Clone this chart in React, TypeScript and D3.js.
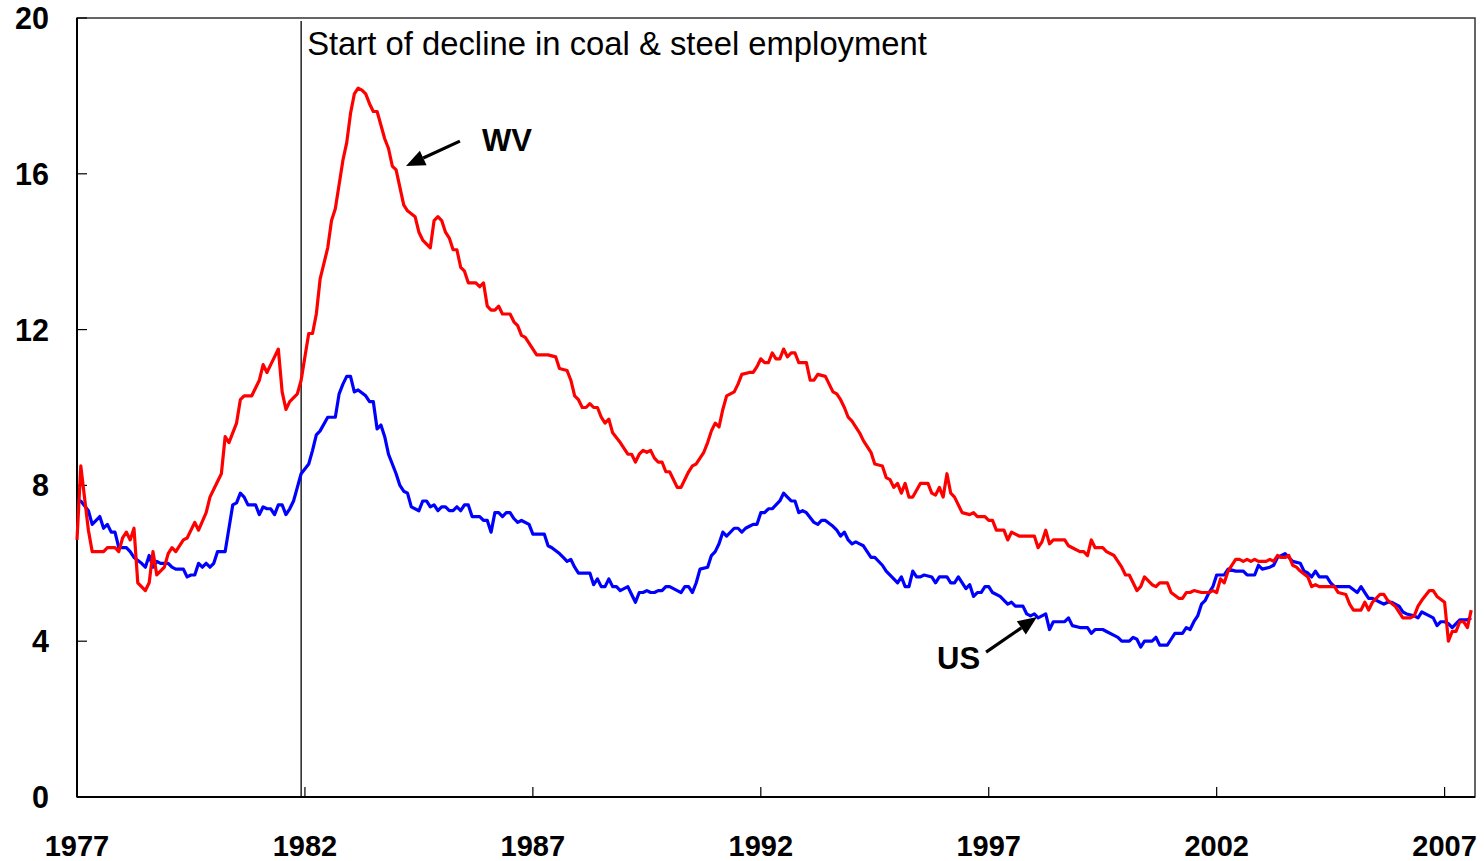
import React from "react";
import * as d3 from "d3";

// unemployment rate (%), [months since Jan 1977, rate]
const wvRate: [number, number][] = [
  [0,6.6],[1,8.5],[3,6.85],[4,6.3],[7,6.3],[8,6.4],[10,6.4],[11,6.3],[12,6.65],[13,6.8],[14,6.6],[15,6.9],[16,5.5],[18,5.3],[19,5.5],[20,6.3],[21,5.7],[23,5.9],[24,6.25],[25,6.4],[26,6.3],[28,6.6],[29,6.65],[31,7.05],[32,6.85],[34,7.3],[35,7.7],[36,7.9],[38,8.3],[39,9.25],[40,9.1],[42,9.6],[43,10.2],[44,10.3],[46,10.3],[47,10.5],[48,10.7],[49,11.1],[50,10.9],[51,11.1],[52,11.3],[53,11.5],[54,10.4],[55,9.95],[56,10.15],[58,10.35],[59,10.7],
  [60,11.3],[61,11.9],[62,11.9],[63,12.4],[64,13.3],[66,14.1],[67,14.8],[68,15.1],[70,16.35],[71,16.8],[72,17.55],[73,18.05],[74,18.2],[75,18.15],[76,18.05],[77,17.8],[78,17.6],[79,17.6],[81,16.9],[82,16.65],[83,16.2],[84,16.1],[86,15.2],[87,15.05],[89,14.9],[90,14.5],[91,14.3],[93,14.1],[94,14.8],[95,14.9],[96,14.8],[97,14.5],[98,14.35],[99,14.05],[100,14.05],[101,13.6],[102,13.5],[103,13.2],[105,13.2],[106,13.1],[107,13.2],[108,12.6],[109,12.5],[110,12.5],[111,12.6],[112,12.4],[114,12.4],[115,12.2],[116,12.1],[117,11.85],[118,11.8],
  [121,11.35],[124,11.35],[126,11.3],[127,11.0],[129,10.95],[130,10.7],[131,10.3],[132,10.2],[133,10.0],[134,10.0],[135,10.1],[136,10.0],[137,10.0],[138,9.75],[139,9.6],[140,9.7],[141,9.35],[143,9.1],[145,8.8],[146,8.8],[147,8.6],[148,8.8],[149,8.9],[150,8.85],[151,8.9],[152,8.7],[153,8.6],[154,8.6],[155,8.35],[156,8.35],[157,8.15],[158,7.95],[159,7.95],[160,8.15],[161,8.35],[162,8.5],[163,8.55],[165,8.85],[166,9.1],[167,9.4],[168,9.6],[169,9.5],[170,9.95],[171,10.3],[172,10.35],[173,10.4],[174,10.6],[175,10.85],[177,10.9],[178,10.9],[179,11.05],
  [180,11.25],[181,11.15],[182,11.15],[183,11.4],[184,11.25],[185,11.25],[186,11.5],[187,11.3],[188,11.4],[189,11.4],[190,11.15],[192,11.15],[193,10.7],[194,10.7],[195,10.85],[197,10.8],[198,10.6],[199,10.4],[200,10.35],[201,10.2],[202,10.0],[203,9.75],[204,9.65],[206,9.35],[207,9.15],[209,8.85],[210,8.55],[212,8.5],[213,8.2],[214,8.15],[215,7.95],[216,8.05],[217,7.8],[218,8.05],[219,7.7],[220,7.7],[222,8.05],[224,8.05],[225,7.8],[226,7.75],[227,7.95],[228,7.7],[229,8.3],[230,7.8],[231,7.7],[233,7.3],[235,7.25],[236,7.3],[237,7.2],[239,7.2],
  [240,7.1],[241,7.1],[242,6.85],[244,6.85],[245,6.6],[246,6.8],[248,6.7],[252,6.7],[253,6.4],[254,6.55],[255,6.85],[256,6.5],[257,6.6],[260,6.6],[261,6.45],[262,6.4],[264,6.3],[265,6.3],[266,6.2],[267,6.6],[268,6.4],[270,6.4],[271,6.3],[273,6.2],[274,6.05],[275,5.9],[276,5.7],[277,5.7],[279,5.3],[280,5.4],[281,5.65],[283,5.45],[284,5.4],[285,5.5],[287,5.5],[288,5.25],[290,5.1],[291,5.1],[292,5.25],[293,5.25],[294,5.3],[296,5.25],[298,5.25],[299,5.3],
  [300,5.25],[301,5.6],[302,5.5],[303,5.8],[305,6.1],[306,6.1],[307,6.05],[308,6.1],[309,6.05],[310,6.1],[311,6.05],[313,6.05],[314,6.1],[315,6.05],[316,6.2],[317,6.15],[318,6.15],[319,6.2],[320,5.95],[321,5.9],[322,5.8],[324,5.65],[325,5.4],[326,5.45],[327,5.4],[331,5.4],[332,5.25],[334,5.2],[335,4.95],[336,4.8],[338,4.8],[339,5.0],[340,4.8],[341,5.0],[343,5.2],[344,5.2],[345,5.05],[347,4.9],[349,4.6],[351,4.6],[352,4.65],[353,4.9],[354,5.05],[356,5.3],[357,5.3],[358,5.15],
  [360,5.0],[361,4.0],[362,4.25],[363,4.25],[364,4.5],[365,4.5],[366,4.35],[367,4.8],
];

const usRate: [number, number][] = [
  [0,7.6],[1,7.6],[3,7.35],[4,7.0],[6,7.2],[7,6.9],[8,7.0],[9,6.8],[10,6.8],[11,6.4],[13,6.4],[14,6.3],[15,6.15],[17,6.0],[18,5.9],[19,6.2],[20,5.9],[21,6.05],[22,6.0],[24,6.0],[25,5.9],[26,5.85],[28,5.85],[29,5.65],[30,5.7],[31,5.7],[32,6.0],[33,5.9],[34,6.0],[35,5.9],[36,6.0],[37,6.3],[39,6.3],[41,7.5],[42,7.55],[43,7.8],[44,7.7],[45,7.5],[47,7.5],[48,7.25],[49,7.45],[50,7.4],[51,7.4],[52,7.25],[53,7.5],[54,7.5],[55,7.25],[56,7.4],[57,7.6],[58,7.95],[59,8.3],
  [61,8.55],[62,8.9],[63,9.3],[64,9.4],[66,9.75],[68,9.75],[69,10.35],[70,10.6],[71,10.8],[72,10.8],[73,10.4],[74,10.45],[76,10.3],[77,10.15],[78,10.15],[79,9.45],[80,9.55],[81,9.25],[82,8.8],[83,8.55],[84,8.3],[85,8.0],[86,7.85],[87,7.8],[88,7.45],[90,7.35],[91,7.6],[92,7.6],[93,7.45],[94,7.5],[95,7.35],[96,7.45],[97,7.45],[98,7.35],[99,7.35],[100,7.45],[101,7.35],[102,7.5],[103,7.5],[104,7.2],[106,7.2],[107,7.1],[108,7.1],[109,6.8],[110,7.3],[111,7.3],[112,7.2],[113,7.3],[114,7.3],[115,7.15],[116,7.05],[117,7.1],[119,7.0],
  [120,6.75],[123,6.75],[124,6.45],[125,6.4],[127,6.25],[128,6.15],[129,6.05],[130,6.1],[131,5.9],[132,5.75],[135,5.75],[136,5.45],[137,5.6],[138,5.4],[139,5.4],[140,5.6],[141,5.4],[142,5.4],[143,5.3],[145,5.4],[146,5.2],[147,5.0],[148,5.25],[149,5.25],[150,5.3],[151,5.25],[152,5.25],[153,5.3],[154,5.3],[155,5.4],[156,5.4],[158,5.3],[159,5.25],[160,5.4],[161,5.4],[162,5.25],[163,5.5],[164,5.85],[166,5.9],[167,6.2],[168,6.3],[169,6.5],[170,6.8],[171,6.7],[173,6.9],[174,6.9],[175,6.8],[176,6.9],[177,6.95],[178,7.0],[179,7.0],
  [180,7.3],[181,7.3],[182,7.4],[183,7.4],[185,7.6],[186,7.8],[187,7.7],[188,7.6],[189,7.6],[190,7.3],[191,7.35],[192,7.3],[194,7.05],[195,7.0],[196,7.1],[197,7.1],[199,6.95],[200,6.85],[201,6.7],[202,6.8],[203,6.6],[204,6.5],[205,6.55],[206,6.5],[207,6.45],[209,6.15],[210,6.15],[212,5.95],[213,5.8],[215,5.6],[216,5.5],[217,5.65],[218,5.4],[219,5.4],[220,5.8],[221,5.65],[222,5.65],[223,5.7],[225,5.65],[226,5.5],[227,5.65],[229,5.65],[230,5.5],[231,5.5],[232,5.65],[234,5.35],[235,5.45],[236,5.15],[237,5.25],[238,5.25],[239,5.4],
  [240,5.4],[241,5.25],[243,5.15],[245,4.95],[246,5.0],[247,4.9],[249,4.9],[250,4.7],[251,4.65],[252,4.7],[253,4.6],[255,4.7],[256,4.3],[257,4.5],[260,4.5],[261,4.6],[262,4.4],[264,4.35],[266,4.35],[267,4.2],[268,4.3],[270,4.3],[271,4.25],[273,4.15],[274,4.1],[275,4.0],[277,4.0],[278,4.1],[279,4.05],[280,3.85],[281,4.0],[282,4.0],[283,4.0],[284,4.1],[285,3.9],[287,3.9],[288,4.05],[289,4.2],[291,4.2],[292,4.35],[293,4.3],[294,4.5],[295,4.65],[296,4.95],[297,5.05],[298,5.25],[299,5.4],
  [300,5.7],[302,5.7],[303,5.85],[305,5.8],[307,5.8],[308,5.7],[310,5.7],[311,5.95],[312,5.85],[314,5.9],[315,5.95],[316,6.15],[318,6.25],[319,6.15],[320,6.05],[322,6.0],[323,5.8],[324,5.75],[325,5.65],[326,5.8],[327,5.65],[329,5.65],[330,5.5],[331,5.4],[335,5.4],[337,5.25],[338,5.4],[339,5.25],[340,5.1],[341,5.1],[343,5.0],[344,4.95],[345,5.0],[346,5.0],[348,4.9],[349,4.75],[350,4.7],[352,4.65],[353,4.6],[354,4.75],[356,4.65],[357,4.6],[358,4.4],[359,4.5],
  [360,4.5],[361,4.45],[362,4.35],[364,4.55],[366,4.55],[367,4.6],
];

const yTicks = [0, 4, 8, 12, 16, 20];
const xTicks = [0, 60, 120, 180, 240, 300, 360]; // months since Jan 1977
const declineMonth = 59;
const declineLabel = "Start of decline in coal & steel employment";

// arrows: [fromMonth, fromRate, toMonth, toRate]
const wvArrow = [100.8, 16.84, 86.6, 16.2];
const usArrow = [239.3, 3.72, 252.7, 4.62];

const width = 1484;
const height = 861;
const margin = { top: 18, right: 9, bottom: 64, left: 77 };
const font = "Arial, 'Liberation Sans', sans-serif";

function Arrow({ pts, x, y }) {
  const [x1, y1, x2, y2] = [x(pts[0]), y(pts[1]), x(pts[2]), y(pts[3])];
  const ang = Math.atan2(y2 - y1, x2 - x1);
  const len = 19;
  const half = 8;
  const bx = x2 - len * Math.cos(ang);
  const by = y2 - len * Math.sin(ang);
  const head = [
    [x2, y2],
    [bx + half * Math.sin(ang), by - half * Math.cos(ang)],
    [bx - half * Math.sin(ang), by + half * Math.cos(ang)],
  ];
  return (
    <g>
      <line x1={x1} y1={y1} x2={bx} y2={by} stroke="#000" strokeWidth={3.2} />
      <polygon points={head.map((p) => p.join(",")).join(" ")} fill="#000" />
    </g>
  );
}

export default function App() {
  const x = d3
    .scaleLinear()
    .domain([0, 368])
    .range([margin.left, width - margin.right]);
  const y = d3
    .scaleLinear()
    .domain([0, 20])
    .range([height - margin.bottom, margin.top]);

  const line = d3
    .line<[number, number]>()
    .x((d) => x(d[0]))
    .y((d) => y(d[1]));

  const x0 = x.range()[0];
  const x1 = x.range()[1];
  const yb = y.range()[0];
  const yt = y.range()[1];

  return (
    <svg
      width={width}
      height={height}
      style={{ position: "absolute", left: 0, top: 0, background: "#fff" }}
      fontFamily={font}
    >
      <rect x={x0} y={yt} width={x1 - x0} height={yb - yt} fill="#fff" stroke="#333" strokeWidth={1.5} />
      <line x1={x0} y1={yt} x2={x0} y2={yb} stroke="#000" strokeWidth={2} />
      <line x1={x0} y1={yb} x2={x1} y2={yb} stroke="#000" strokeWidth={2} />

      {yTicks.map((t) => (
        <g key={"y" + t}>
          <line x1={x0} x2={x0 + 10} y1={y(t)} y2={y(t)} stroke="#000" strokeWidth={1.2} />
          <text x={49} y={y(t)} dy="0.36em" textAnchor="end" fontSize={30.5} fontWeight="bold">
            {t}
          </text>
        </g>
      ))}

      {xTicks.map((t) => (
        <g key={"x" + t}>
          <line x1={x(t)} x2={x(t)} y1={yb} y2={yb - 10} stroke="#000" strokeWidth={1.2} />
          <text x={x(t)} y={856} textAnchor="middle" fontSize={29} fontWeight="bold">
            {1977 + t / 12}
          </text>
        </g>
      ))}

      <line x1={x(declineMonth)} x2={x(declineMonth)} y1={yt + 3} y2={yb} stroke="#000" strokeWidth={1.3} />
      <text x={x(declineMonth) + 6} y={55} fontSize={32.8}>
        {declineLabel}
      </text>

      <path d={line(usRate)} fill="none" stroke="#0000ff" strokeWidth={3.2} strokeLinejoin="round" />
      <path d={line(wvRate)} fill="none" stroke="#ff0000" strokeWidth={3.2} strokeLinejoin="round" />

      <Arrow pts={wvArrow} x={x} y={y} />
      <Arrow pts={usArrow} x={x} y={y} />
      <text x={x(106.6)} y={y(16.59)} fontSize={31} fontWeight="bold">WV</text>
      <text x={x(226.4)} y={y(3.29)} fontSize={31} fontWeight="bold">US</text>
    </svg>
  );
}
